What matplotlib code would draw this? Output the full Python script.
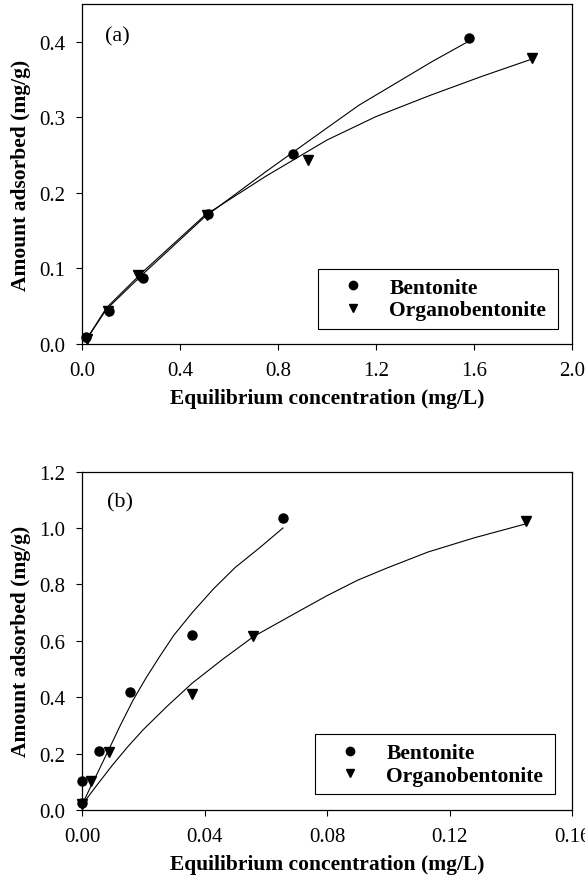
import matplotlib
matplotlib.use('Agg')
import matplotlib.pyplot as plt

plt.rcParams['font.family'] = ['Liberation Serif', 'DejaVu Serif']

# (a) data
a_bent_x = [0.016, 0.111, 0.249, 0.515, 0.863, 1.581]
a_bent_y = [0.009, 0.044, 0.087, 0.172, 0.251, 0.405]
a_org_x = [0.022, 0.105, 0.228, 0.510, 0.921, 1.835]
a_org_y = [0.006, 0.044, 0.091, 0.171, 0.244, 0.379]
# fitted lines, read as points along the drawn curves
a_bent_fit_x = [0.012, 0.1, 0.25, 0.5, 0.75, 1.0, 1.13, 1.28, 1.43, 1.58]
a_bent_fit_y = [0.003, 0.046, 0.093, 0.168, 0.228, 0.286, 0.316, 0.345, 0.374, 0.401]
a_org_fit_x = [0.012, 0.1, 0.25, 0.5, 0.75, 1.0, 1.2, 1.42, 1.63, 1.835]
a_org_fit_y = [0.003, 0.048, 0.096, 0.170, 0.222, 0.270, 0.301, 0.329, 0.354, 0.377]

# (b) data
b_bent_x = [0.0, 0.0, 0.0056, 0.0156, 0.036, 0.0656]
b_bent_y = [0.025, 0.104, 0.209, 0.417, 0.622, 1.034]
b_org_x = [0.0, 0.0028, 0.0089, 0.036, 0.0558, 0.145]
b_org_y = [0.02, 0.102, 0.205, 0.411, 0.618, 1.026]
b_bent_fit_x = [0.0, 0.0025, 0.005, 0.009, 0.0125, 0.0167, 0.021, 0.0254, 0.03, 0.036, 0.043, 0.05, 0.058, 0.0656]
b_bent_fit_y = [0.018, 0.075, 0.13, 0.22, 0.30, 0.39, 0.47, 0.545, 0.62, 0.70, 0.785, 0.86, 0.93, 1.0]
b_org_fit_x = [0.0, 0.005, 0.01, 0.015, 0.02, 0.028, 0.036, 0.046, 0.056, 0.07, 0.08, 0.09, 0.1, 0.113, 0.128, 0.145]
b_org_fit_y = [0.018, 0.09, 0.16, 0.225, 0.285, 0.37, 0.45, 0.535, 0.615, 0.70, 0.76, 0.815, 0.86, 0.915, 0.965, 1.015]

fig = plt.figure(figsize=(5.85, 8.79), dpi=100)

def style(ax, xlim, ylim, xticks, yticks, xfmt, yfmt):
    ax.set_xlim(*xlim)
    ax.set_ylim(*ylim)
    ax.set_xticks(xticks)
    ax.set_yticks(yticks)
    ax.set_xticklabels([xfmt % v for v in xticks])
    ax.set_yticklabels([yfmt % v for v in yticks])
    ax.tick_params(direction='out', length=4, width=0.8, labelsize=15, pad=8)
    for s in ax.spines.values():
        s.set_linewidth(0.9)
    ax.set_xlabel('Equilibrium concentration (mg/L)', fontsize=15.5, fontweight='bold', labelpad=6)
    ax.set_ylabel('Amount adsorbed (mg/g)', fontsize=15.5, fontweight='bold', labelpad=6)

def draw(ax, bx, by, ox, oy, bfx, bfy, ofx, ofy, box):
    ax.plot(bfx, bfy, color='black', lw=0.8)
    ax.plot(ofx, ofy, color='black', lw=0.8)
    ax.plot(bx, by, 'o', color='black', ms=6.5, label='Bentonite', clip_on=False)
    ax.plot(ox, oy, 'v', color='black', ms=7.5, label='Organobentonite', clip_on=False)
    leg = ax.legend(loc='lower left', bbox_to_anchor=box, mode='expand', fancybox=False,
                    edgecolor='black', framealpha=1, borderpad=0.4, labelspacing=0.12,
                    handlelength=2.4, handletextpad=0.5, borderaxespad=0,
                    prop={'weight': 'bold', 'size': 15.5})
    leg.get_frame().set_linewidth(0.8)
    for h in leg.legend_handles:
        h.set_markersize(6)

ax1 = fig.add_axes([0.1402, 0.6075, 0.8376, 0.3868])
draw(ax1, a_bent_x, a_bent_y, a_org_x, a_org_y, a_bent_fit_x, a_bent_fit_y,
     a_org_fit_x, a_org_fit_y, (0.482, 0.044, 0.489, 0.197))
style(ax1, (0, 2.0), (0, 0.45), [0, 0.4, 0.8, 1.2, 1.6, 2.0], [0, 0.1, 0.2, 0.3, 0.4], '%.1f', '%.1f')
ax1.text(0.047, 0.906, '(a)', transform=ax1.transAxes, fontsize=16, va='center', ha='left')

ax2 = fig.add_axes([0.1402, 0.0774, 0.8376, 0.3849])
draw(ax2, b_bent_x, b_bent_y, b_org_x, b_org_y, b_bent_fit_x, b_bent_fit_y,
     b_org_fit_x, b_org_fit_y, (0.476, 0.046, 0.489, 0.194))
style(ax2, (0, 0.16), (0, 1.2), [0, 0.04, 0.08, 0.12, 0.16], [0, 0.2, 0.4, 0.6, 0.8, 1.0, 1.2], '%.2f', '%.1f')
ax2.text(0.05, 0.912, '(b)', transform=ax2.transAxes, fontsize=16, va='center', ha='left')

fig.savefig('out.png', dpi=100)
